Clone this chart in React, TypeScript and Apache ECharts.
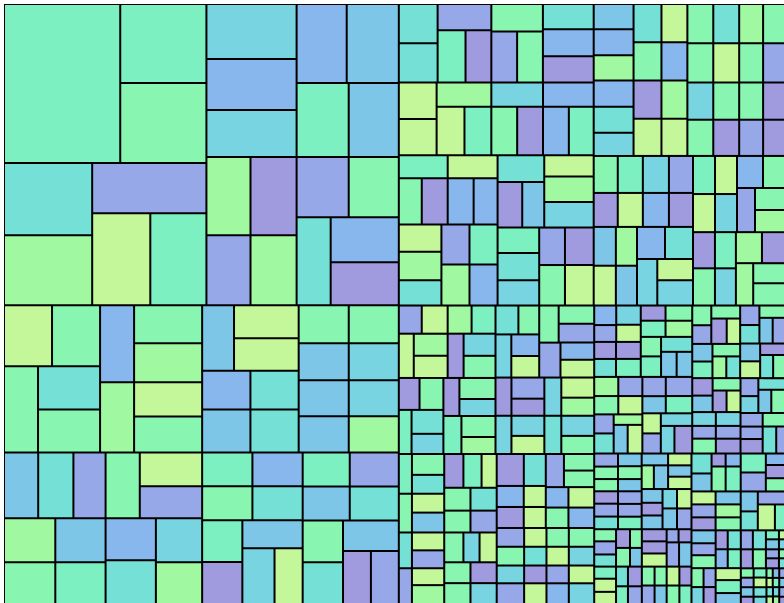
import React, { useEffect, useRef } from 'react';
import * as echarts from 'echarts';

type Tree = number | Tree[];

const PALETTE: Record<string, string> = {
  m: '#7CF0C0', g: '#88F5B0', y: '#A0F8A0', l: '#C3F799', t: '#74E0D6',
  c: '#78D4E0', s: '#7EC6E8', b: '#87B7EC', p: '#96A8E8', v: '#A09ADE',
};

// ---------- top-left quadrant ----------
const TL_A: Tree = [18444, [6794, 6880]];
const TL_A_COL = 'mmg';
const TL_C: Tree = [[6336, 6160], [5700, [5336, 5152]]];
const TL_C_COL = 'typlm';
const TL_B: Tree = [[4950, [4590, 4230]], [[3950, 4108], [3848, 3700]]];
const TL_B_COL = 'cbcbsms';
const TL_D: Tree = [[[3432, 3588], [3080, 3220]], [[3120, 3000], [2992, [3060, 2924]]]];
const TL_D_COL = 'yvpypgtbv';

// ---------- top-right quadrant ----------
const TR_A: Tree = [
  [[[1521, 1521], [1400, [1460, 1350]]], [[1368, 1368], [1320, [1344, 1296]]]],
  [[[1420, [1310, 1310]], [1275, [1377, 1326]]], [[1248, [1248, 1248]], [1224, [1248, 1200]]]],
];
const TR_A_COL = 'ttpmv llylm gpgtbv cgvbbm';
const TR_C: Tree = [
  [[[1127, [1058, 1196]], [1150, [1196, 1104]]], [[1161, [1204, 1075]], [[1120, 1120], [1148, 1148]]]],
  [[[1250, [1120, 1000]], [1050, [1260, 1260]]], [[1050, [1134, 1050]], [[962, 1073], [1040, 1160]]]],
];
const TR_C_COL = 'mgvlbb lytpmyb tvslyc mtcpvgl';
const TR_B: Tree = [
  [[[1000, [1040, 1000]], [[1064, 988], [1064, 988]]], [[1040, [1040, 920]], [[1064, 988], [1036, 962]]]],
  [[[[1014, 1014], [1014, 1014]], [[936, 1131], [936, 1131]]], [[[962, 962], [936, 936]], [[888, 1073], [864, 1044]]]],
];
const TR_B_COL = 'sbytlgb btcvyll gtglyggp cggvgvpv';
const TR_D: Tree = [
  [[[[888, 925], [816, 850]], [[962, 888], [884, 816]]], [[[858, 819], [880, 840]], [[896, 896], [940, [756, 900]]]]],
  [[[[836, 836], [836, 836]], [[832, 928], [792, [814, 814]]]], [[[792, 756], [814, 777]], [[806, 930], [731, [780, 858]]]]],
];
const TR_D_COL = 'gmvlcpbv sylsbtclc mllcbgpgy vmgcyvygg';

// ---------- bottom-left quadrant ----------
const BL_A: Tree = [[[2928, 2928], [2924, [2666, 2666]]], [[2618, [2584, 2652]], [2380, [2312, 2448]]]];
const BL_A_COL = 'lggtgbgyylg';
const BL_C: Tree = [[[[2244, 2310], 2112], [[2244, 2244], [2200, 2200]]], [[2244, [2108, 1984]], [[2100, 2300], [2024, 2024]]]];
const BL_C_COL = 'stpygsmglpbtcy';
const BL_B: Tree = [[[2080, [2140, 2080]], [[1872, 2064], [1872, 2064]]], [[[1900, 1850], [1900, 1850]], [[1800, 1800], [1800, 1800]]]];
const BL_B_COL = 'sllbsttgsgcsscy';
const BL_D: Tree = [
  [[[1700, 1700], [1700, 1700]], [[1680, 1760], [1680, [1856, 1624]]]],
  [[[1598, 1598], [1666, 1666]], [[1680, 1760], [1700, [1530, 1530]]]],
];
const BL_D_COL = 'mgbtmvscl msptgtsvp';

// ---------- bottom-right quadrant ----------
const BR_A: Tree = [
  [[[[644, 728], [660, [748, 748]]], [[672, 672], [704, [704, 704]]]], [[[660, 760], [560, [760, 640]]], [[608, [756, 612]], [684, [714, 578]]]]],
  [[[[660, 600], [680, [600, 600]]], [[720, [650, 665]], [740, [575, 600]]]], [[[608, [693, 561]], [608, [660, 594]]], [[646, [660, 594]], [646, [660, 594]]]]],
];
const BR_A_COL = 'pllyl ymvcg vgmtc vgcmgy tgcbl ggppbl vpvccl clytcg';
const BR_C: Tree = [
  [[[[520, [672, 608]], [507, [608, 640]]], [[[646, 612], 510], [[598, 572], [598, 572]]]], [[[468, [576, 576]], [494, [544, 672]]], [[570, [480, 510]], [[546, 598], [546, 598]]]]],
  [[[[864, 700], [[567, 567], [462, 462]]], [[600, [500, 500]], [[462, 462], [525, 525]]]], [[[[513, 513], [418, 418]], [[486, 621], [396, 506]]], [[[418, 418], [475, 475]], [[396, 506], [450, 575]]]]],
];
const BR_C_COL = 'mgtgls vmlggtp tlpply gclggvc vtbvll pggbglb pgltcpvl glgcpblc';
const BR_D_TLT: Tree = [[[[430, 370], [470, 420]], [[370, 390], [420, 445]]], [[[375, 400], [405, 430]], [[395, 415], [465, [390, 390]]]]];
const BR_D_TLT_COL = 'bpclvtvm vmgygmtss';
const BR_D_TLB: Tree = [[[[460, 440], [460, 440]], [[370, 390], [300, [400, 420]]]], [[[450, 400], [505, 455]], [[370, 370], [395, [375, 490]]]]];
const BR_D_TLB_COL = 'ygplptysl pspmlpccv';
const BR_D_TRT: Tree = [[[[375, 355], [375, [390, 340]]], [[355, 335], [345, [300, 300]]]], [[[375, 355], [400, [340, 495]]], [[355, 335], [365, [300, 435]]]]];
const BR_D_TRT_COL = 'gpgvlsmgyt ptgspslvtg';
const BR_D_TRB: Tree = [[[[355, 335], [345, [300, 300]]], [[325, [300, 350]], [340, [315, 365]]]], [[[320, 300], [390, [300, 480]]], [[300, [275, 320]], [395, [365, 425]]]]];
const BR_D_TRB_COL = 'vsgvlcpgcpv pctsgppvgtp';
const BR_D_BLT: Tree = [[[[310, [296, 290]], [300, [304, 288]]], [[294, [306, 300]], [298, [302, 296]]]], [[[312, [288, 336]], [276, [264, 288]]], [[286, [264, 286]], [[280, 280], [300, 300]]]]];
const BR_D_BLT_COL = 'pggsgsvptppm syslslsvsclsp';
const BR_D_BLB: Tree = [[[[264, [286, 264]], [[260, 221], [260, 221]]], [[264, [286, 308]], [[234, 273], [234, 273]]]], [[[300, [300, 325]], [[156, 169], [300, 300]]], [[[240, 228], [260, 247]], [[240, 228], [260, 247]]]]];
const BR_D_BLB_COL = 'gptvggs mlltvmp vvlpvps ggpslvgm';
const BR_D_BRT: Tree = [[[[400, 360], [[182, 195], [350, 375]]], [[312, [312, 312]], [325, [325, 325]]]], [[[475, 475], [300, [345, 345]]], [[340, 323], [442, [442, 442]]]]];
const BR_D_BRT_COL = 'tsvbgm lpvsyg mpbvg stplm';
const BR_D_BRB: Tree = [
  [[[312, [288, 312]], [[228, 247], [228, 247]]], [[[228, 228], [228, 228]], [300, [325, 325]]]],
  [[[[228, 247], [228, 247]], [[[117, 130], [117, 130]], [[117, 130], [117, 130]]]],
   [[[[120, 122], [118, 124]], [[120, 118], [122, 120]]], [[[[60, 62], [58, 60]], [[62, 60], [58, 60]]], [[[60, 58], [62, 60]], [[60, 62], [60, 58]]]]]],
];
const BR_D_BRB_COL = 'spgvtbm gpcvlms ptvgmslcpvgt gpmlsvtcgblmpvsgtclypmvs';

function toNodes(tree: Tree, colors: string, cur: { i: number }): any {
  if (typeof tree === 'number') {
    const code = colors.charAt(cur.i++);
    return {
      value: tree,
      itemStyle: { color: PALETTE[code] || PALETTE.m, borderColor: '#000', borderWidth: 1 },
    };
  }
  return { children: tree.map((t) => toNodes(t, colors, cur)) };
}
const block = (tree: Tree, colors: string) => toNodes(tree, colors.replace(/\s+/g, ''), { i: 0 });
const pair = (a: any, b: any) => ({ children: [a, b] });

function buildData() {
  const TL = pair(pair(block(TL_A, TL_A_COL), block(TL_C, TL_C_COL)), pair(block(TL_B, TL_B_COL), block(TL_D, TL_D_COL)));
  const TR = pair(pair(block(TR_A, TR_A_COL), block(TR_C, TR_C_COL)), pair(block(TR_B, TR_B_COL), block(TR_D, TR_D_COL)));
  const BL = pair(pair(block(BL_A, BL_A_COL), block(BL_C, BL_C_COL)), pair(block(BL_B, BL_B_COL), block(BL_D, BL_D_COL)));
  const BRD = pair(
    pair(pair(block(BR_D_TLT, BR_D_TLT_COL), block(BR_D_TLB, BR_D_TLB_COL)), pair(block(BR_D_TRT, BR_D_TRT_COL), block(BR_D_TRB, BR_D_TRB_COL))),
    pair(pair(block(BR_D_BLT, BR_D_BLT_COL), block(BR_D_BLB, BR_D_BLB_COL)), pair(block(BR_D_BRT, BR_D_BRT_COL), block(BR_D_BRB, BR_D_BRB_COL)))
  );
  const BR = pair(pair(block(BR_A, BR_A_COL), block(BR_C, BR_C_COL)), BRD);
  return [pair(TL, BL), pair(TR, BR)];
}

export default function App() {
  const ref = useRef<HTMLDivElement>(null);
  useEffect(() => {
    if (!ref.current) return;
    const chart = echarts.init(ref.current, undefined, { renderer: 'svg' });
    chart.setOption({
      animation: false,
      backgroundColor: '#ffffff',
      series: [
        {
          type: 'treemap',
          left: 4,
          top: 4,
          width: 788,
          height: 602,
          roam: false,
          nodeClick: false,
          sort: false,
          squareRatio: 1,
          visibleMin: 0,
          breadcrumb: { show: false },
          label: { show: false },
          upperLabel: { show: false },
          emphasis: { disabled: true },
          itemStyle: { borderColor: '#000', borderWidth: 0, gapWidth: 0 },
          data: buildData(),
        },
      ],
    });
    return () => chart.dispose();
  }, []);
  return (
    <div
      ref={ref}
      style={{ position: 'fixed', left: 0, top: 0, width: 784, height: 603 }}
    />
  );
}
